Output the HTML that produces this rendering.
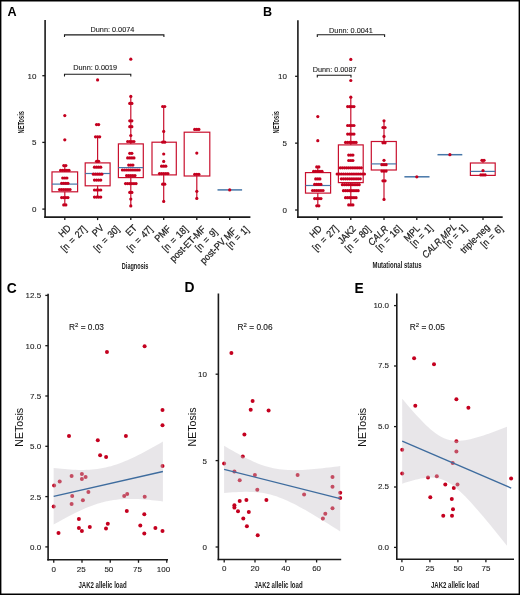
<!DOCTYPE html>
<html><head><meta charset="utf-8"><title>NETosis figure</title>
<style>
html,body{margin:0;padding:0;background:#fff;}
body{width:520px;height:595px;overflow:hidden;position:relative;}
svg{display:block;position:absolute;left:0;top:0;will-change:transform;}
text{font-family:"Liberation Sans", sans-serif;}
</style></head><body>
<svg width="520" height="595" viewBox="0 0 520 595">
<rect x="0" y="0" width="520" height="595" fill="#fff"/>
<text transform="translate(7.40,16.00)" font-size="12.6" text-anchor="start" font-weight="bold" font-style="normal" fill="#000" >A</text>
<line x1="45.1" y1="20" x2="45.1" y2="217.9" stroke="#1a1a1a" stroke-width="1.6"/>
<line x1="44.300000000000004" y1="217.1" x2="250.4" y2="217.1" stroke="#1a1a1a" stroke-width="1.6"/>
<line x1="42.300000000000004" y1="75.69999999999999" x2="45.1" y2="75.69999999999999" stroke="#1a1a1a" stroke-width="1.3"/>
<text transform="translate(36.50,78.60)" font-size="8.0" text-anchor="end" font-weight="normal" font-style="normal" fill="#1a1a1a"  stroke="#1a1a1a" stroke-width="0.1">10</text>
<line x1="42.300000000000004" y1="142.39999999999998" x2="45.1" y2="142.39999999999998" stroke="#1a1a1a" stroke-width="1.3"/>
<text transform="translate(36.50,145.30)" font-size="8.0" text-anchor="end" font-weight="normal" font-style="normal" fill="#1a1a1a"  stroke="#1a1a1a" stroke-width="0.1">5</text>
<line x1="42.300000000000004" y1="209.1" x2="45.1" y2="209.1" stroke="#1a1a1a" stroke-width="1.3"/>
<text transform="translate(36.50,212.00)" font-size="8.0" text-anchor="end" font-weight="normal" font-style="normal" fill="#1a1a1a"  stroke="#1a1a1a" stroke-width="0.1">0</text>
<text transform="translate(23.90,122.20) rotate(-90) scale(0.62,1)" font-size="9.2" text-anchor="middle" font-weight="bold" font-style="normal" fill="#1a1a1a" >NETosis</text>
<line x1="64.8" y1="217.1" x2="64.8" y2="220.1" stroke="#1a1a1a" stroke-width="1.3"/>
<line x1="97.6" y1="217.1" x2="97.6" y2="220.1" stroke="#1a1a1a" stroke-width="1.3"/>
<line x1="130.8" y1="217.1" x2="130.8" y2="220.1" stroke="#1a1a1a" stroke-width="1.3"/>
<line x1="163.7" y1="217.1" x2="163.7" y2="220.1" stroke="#1a1a1a" stroke-width="1.3"/>
<line x1="196.8" y1="217.1" x2="196.8" y2="220.1" stroke="#1a1a1a" stroke-width="1.3"/>
<line x1="229.7" y1="217.1" x2="229.7" y2="220.1" stroke="#1a1a1a" stroke-width="1.3"/>
<path d="M64.5 37.1 V34.9 H163.9 V37.1" fill="none" stroke="#1a1a1a" stroke-width="1.1"/>
<text transform="translate(112.40,32.30)" font-size="7.3" text-anchor="middle" font-weight="normal" font-style="normal" fill="#1a1a1a"  stroke="#1a1a1a" stroke-width="0.1">Dunn: 0.0074</text>
<path d="M64.5 76.4 V74.2 H130.8 V76.4" fill="none" stroke="#1a1a1a" stroke-width="1.1"/>
<text transform="translate(95.20,69.50)" font-size="7.3" text-anchor="middle" font-weight="normal" font-style="normal" fill="#1a1a1a"  stroke="#1a1a1a" stroke-width="0.1">Dunn: 0.0019</text>
<line x1="64.8" y1="165.6" x2="64.8" y2="171.9" stroke="#c8102e" stroke-width="1.2"/>
<line x1="64.8" y1="191.8" x2="64.8" y2="204.9" stroke="#c8102e" stroke-width="1.2"/>
<rect x="52.0" y="171.9" width="25.60" height="19.90" fill="none" stroke="#c8102e" stroke-width="1.2"/>
<line x1="52.0" y1="184.1" x2="77.6" y2="184.1" stroke="#4676a8" stroke-width="1.2"/>
<circle cx="64.80" cy="115.60" r="1.6" fill="#c4001f"/>
<circle cx="64.80" cy="139.80" r="1.6" fill="#c4001f"/>
<circle cx="63.75" cy="165.60" r="1.6" fill="#c4001f"/>
<circle cx="65.85" cy="165.60" r="1.6" fill="#c4001f"/>
<circle cx="60.60" cy="170.30" r="1.6" fill="#c4001f"/>
<circle cx="62.70" cy="170.30" r="1.6" fill="#c4001f"/>
<circle cx="64.80" cy="170.30" r="1.6" fill="#c4001f"/>
<circle cx="66.90" cy="170.30" r="1.6" fill="#c4001f"/>
<circle cx="69.00" cy="170.30" r="1.6" fill="#c4001f"/>
<circle cx="62.70" cy="178.00" r="1.6" fill="#c4001f"/>
<circle cx="64.80" cy="178.00" r="1.6" fill="#c4001f"/>
<circle cx="66.90" cy="178.00" r="1.6" fill="#c4001f"/>
<circle cx="61.65" cy="183.30" r="1.6" fill="#c4001f"/>
<circle cx="63.75" cy="183.30" r="1.6" fill="#c4001f"/>
<circle cx="65.85" cy="183.30" r="1.6" fill="#c4001f"/>
<circle cx="67.95" cy="183.30" r="1.6" fill="#c4001f"/>
<circle cx="59.55" cy="189.50" r="1.6" fill="#c4001f"/>
<circle cx="61.65" cy="189.50" r="1.6" fill="#c4001f"/>
<circle cx="63.75" cy="189.50" r="1.6" fill="#c4001f"/>
<circle cx="65.85" cy="189.50" r="1.6" fill="#c4001f"/>
<circle cx="67.95" cy="189.50" r="1.6" fill="#c4001f"/>
<circle cx="70.05" cy="189.50" r="1.6" fill="#c4001f"/>
<circle cx="61.65" cy="197.60" r="1.6" fill="#c4001f"/>
<circle cx="63.75" cy="197.60" r="1.6" fill="#c4001f"/>
<circle cx="65.85" cy="197.60" r="1.6" fill="#c4001f"/>
<circle cx="67.95" cy="197.60" r="1.6" fill="#c4001f"/>
<circle cx="63.75" cy="204.90" r="1.6" fill="#c4001f"/>
<circle cx="65.85" cy="204.90" r="1.6" fill="#c4001f"/>
<line x1="97.6" y1="136.8" x2="97.6" y2="162.9" stroke="#c8102e" stroke-width="1.2"/>
<line x1="97.6" y1="185.8" x2="97.6" y2="197.1" stroke="#c8102e" stroke-width="1.2"/>
<rect x="85.2" y="162.9" width="24.90" height="22.90" fill="none" stroke="#c8102e" stroke-width="1.2"/>
<line x1="85.2" y1="173.5" x2="110.1" y2="173.5" stroke="#4676a8" stroke-width="1.2"/>
<circle cx="97.60" cy="79.90" r="1.6" fill="#c4001f"/>
<circle cx="96.55" cy="124.60" r="1.6" fill="#c4001f"/>
<circle cx="98.65" cy="124.60" r="1.6" fill="#c4001f"/>
<circle cx="95.50" cy="136.80" r="1.6" fill="#c4001f"/>
<circle cx="97.60" cy="136.80" r="1.6" fill="#c4001f"/>
<circle cx="99.70" cy="136.80" r="1.6" fill="#c4001f"/>
<circle cx="96.55" cy="161.30" r="1.6" fill="#c4001f"/>
<circle cx="98.65" cy="161.30" r="1.6" fill="#c4001f"/>
<circle cx="94.45" cy="167.20" r="1.6" fill="#c4001f"/>
<circle cx="96.55" cy="167.20" r="1.6" fill="#c4001f"/>
<circle cx="98.65" cy="167.20" r="1.6" fill="#c4001f"/>
<circle cx="100.75" cy="167.20" r="1.6" fill="#c4001f"/>
<circle cx="93.40" cy="174.20" r="1.6" fill="#c4001f"/>
<circle cx="95.50" cy="174.20" r="1.6" fill="#c4001f"/>
<circle cx="97.60" cy="174.20" r="1.6" fill="#c4001f"/>
<circle cx="99.70" cy="174.20" r="1.6" fill="#c4001f"/>
<circle cx="101.80" cy="174.20" r="1.6" fill="#c4001f"/>
<circle cx="94.45" cy="180.10" r="1.6" fill="#c4001f"/>
<circle cx="96.55" cy="180.10" r="1.6" fill="#c4001f"/>
<circle cx="98.65" cy="180.10" r="1.6" fill="#c4001f"/>
<circle cx="100.75" cy="180.10" r="1.6" fill="#c4001f"/>
<circle cx="94.45" cy="190.00" r="1.6" fill="#c4001f"/>
<circle cx="96.55" cy="190.00" r="1.6" fill="#c4001f"/>
<circle cx="98.65" cy="190.00" r="1.6" fill="#c4001f"/>
<circle cx="100.75" cy="190.00" r="1.6" fill="#c4001f"/>
<circle cx="94.45" cy="197.10" r="1.6" fill="#c4001f"/>
<circle cx="96.55" cy="197.10" r="1.6" fill="#c4001f"/>
<circle cx="98.65" cy="197.10" r="1.6" fill="#c4001f"/>
<circle cx="100.75" cy="197.10" r="1.6" fill="#c4001f"/>
<line x1="130.8" y1="96.4" x2="130.8" y2="143.9" stroke="#c8102e" stroke-width="1.2"/>
<line x1="130.8" y1="177.6" x2="130.8" y2="205.9" stroke="#c8102e" stroke-width="1.2"/>
<rect x="118.4" y="143.9" width="24.90" height="33.70" fill="none" stroke="#c8102e" stroke-width="1.2"/>
<line x1="118.4" y1="167.6" x2="143.3" y2="167.6" stroke="#4676a8" stroke-width="1.2"/>
<circle cx="130.80" cy="59.20" r="1.6" fill="#c4001f"/>
<circle cx="130.80" cy="96.40" r="1.6" fill="#c4001f"/>
<circle cx="129.75" cy="103.40" r="1.6" fill="#c4001f"/>
<circle cx="131.85" cy="103.40" r="1.6" fill="#c4001f"/>
<circle cx="129.75" cy="120.80" r="1.6" fill="#c4001f"/>
<circle cx="131.85" cy="120.80" r="1.6" fill="#c4001f"/>
<circle cx="129.75" cy="126.70" r="1.6" fill="#c4001f"/>
<circle cx="131.85" cy="126.70" r="1.6" fill="#c4001f"/>
<circle cx="130.80" cy="135.50" r="1.6" fill="#c4001f"/>
<circle cx="127.65" cy="141.50" r="1.6" fill="#c4001f"/>
<circle cx="129.75" cy="141.50" r="1.6" fill="#c4001f"/>
<circle cx="131.85" cy="141.50" r="1.6" fill="#c4001f"/>
<circle cx="133.95" cy="141.50" r="1.6" fill="#c4001f"/>
<circle cx="129.75" cy="153.30" r="1.6" fill="#c4001f"/>
<circle cx="131.85" cy="153.30" r="1.6" fill="#c4001f"/>
<circle cx="127.65" cy="157.90" r="1.6" fill="#c4001f"/>
<circle cx="129.75" cy="157.90" r="1.6" fill="#c4001f"/>
<circle cx="131.85" cy="157.90" r="1.6" fill="#c4001f"/>
<circle cx="133.95" cy="157.90" r="1.6" fill="#c4001f"/>
<circle cx="128.70" cy="165.10" r="1.6" fill="#c4001f"/>
<circle cx="130.80" cy="165.10" r="1.6" fill="#c4001f"/>
<circle cx="132.90" cy="165.10" r="1.6" fill="#c4001f"/>
<circle cx="122.40" cy="170.00" r="1.6" fill="#c4001f"/>
<circle cx="124.50" cy="170.00" r="1.6" fill="#c4001f"/>
<circle cx="126.60" cy="170.00" r="1.6" fill="#c4001f"/>
<circle cx="128.70" cy="170.00" r="1.6" fill="#c4001f"/>
<circle cx="130.80" cy="170.00" r="1.6" fill="#c4001f"/>
<circle cx="132.90" cy="170.00" r="1.6" fill="#c4001f"/>
<circle cx="135.00" cy="170.00" r="1.6" fill="#c4001f"/>
<circle cx="137.10" cy="170.00" r="1.6" fill="#c4001f"/>
<circle cx="139.20" cy="170.00" r="1.6" fill="#c4001f"/>
<circle cx="126.60" cy="175.60" r="1.6" fill="#c4001f"/>
<circle cx="128.70" cy="175.60" r="1.6" fill="#c4001f"/>
<circle cx="130.80" cy="175.60" r="1.6" fill="#c4001f"/>
<circle cx="132.90" cy="175.60" r="1.6" fill="#c4001f"/>
<circle cx="135.00" cy="175.60" r="1.6" fill="#c4001f"/>
<circle cx="125.55" cy="183.60" r="1.6" fill="#c4001f"/>
<circle cx="127.65" cy="183.60" r="1.6" fill="#c4001f"/>
<circle cx="129.75" cy="183.60" r="1.6" fill="#c4001f"/>
<circle cx="131.85" cy="183.60" r="1.6" fill="#c4001f"/>
<circle cx="133.95" cy="183.60" r="1.6" fill="#c4001f"/>
<circle cx="136.05" cy="183.60" r="1.6" fill="#c4001f"/>
<circle cx="129.75" cy="192.40" r="1.6" fill="#c4001f"/>
<circle cx="131.85" cy="192.40" r="1.6" fill="#c4001f"/>
<circle cx="130.80" cy="199.10" r="1.6" fill="#c4001f"/>
<circle cx="130.80" cy="205.90" r="1.6" fill="#c4001f"/>
<line x1="163.7" y1="106.5" x2="163.7" y2="142.2" stroke="#c8102e" stroke-width="1.2"/>
<line x1="163.7" y1="174.9" x2="163.7" y2="201.4" stroke="#c8102e" stroke-width="1.2"/>
<rect x="152.0" y="142.2" width="24.30" height="32.70" fill="none" stroke="#c8102e" stroke-width="1.2"/>
<circle cx="162.65" cy="106.50" r="1.6" fill="#c4001f"/>
<circle cx="164.75" cy="106.50" r="1.6" fill="#c4001f"/>
<circle cx="163.70" cy="131.40" r="1.6" fill="#c4001f"/>
<circle cx="162.65" cy="142.20" r="1.6" fill="#c4001f"/>
<circle cx="164.75" cy="142.20" r="1.6" fill="#c4001f"/>
<circle cx="163.70" cy="154.00" r="1.6" fill="#c4001f"/>
<circle cx="163.70" cy="161.40" r="1.6" fill="#c4001f"/>
<circle cx="161.60" cy="166.20" r="1.6" fill="#c4001f"/>
<circle cx="163.70" cy="166.20" r="1.6" fill="#c4001f"/>
<circle cx="165.80" cy="166.20" r="1.6" fill="#c4001f"/>
<circle cx="159.50" cy="173.60" r="1.6" fill="#c4001f"/>
<circle cx="161.60" cy="173.60" r="1.6" fill="#c4001f"/>
<circle cx="163.70" cy="173.60" r="1.6" fill="#c4001f"/>
<circle cx="165.80" cy="173.60" r="1.6" fill="#c4001f"/>
<circle cx="167.90" cy="173.60" r="1.6" fill="#c4001f"/>
<circle cx="162.65" cy="184.20" r="1.6" fill="#c4001f"/>
<circle cx="164.75" cy="184.20" r="1.6" fill="#c4001f"/>
<circle cx="163.70" cy="201.40" r="1.6" fill="#c4001f"/>
<line x1="196.8" y1="176.0" x2="196.8" y2="198.4" stroke="#c8102e" stroke-width="1.2"/>
<rect x="184.2" y="132.2" width="25.60" height="43.80" fill="none" stroke="#c8102e" stroke-width="1.2"/>
<circle cx="194.70" cy="129.40" r="1.6" fill="#c4001f"/>
<circle cx="196.80" cy="129.40" r="1.6" fill="#c4001f"/>
<circle cx="198.90" cy="129.40" r="1.6" fill="#c4001f"/>
<circle cx="196.80" cy="153.10" r="1.6" fill="#c4001f"/>
<circle cx="194.70" cy="174.30" r="1.6" fill="#c4001f"/>
<circle cx="196.80" cy="174.30" r="1.6" fill="#c4001f"/>
<circle cx="198.90" cy="174.30" r="1.6" fill="#c4001f"/>
<circle cx="196.80" cy="191.30" r="1.6" fill="#c4001f"/>
<circle cx="196.80" cy="198.40" r="1.6" fill="#c4001f"/>
<line x1="217.5" y1="189.9" x2="242.1" y2="189.9" stroke="#4676a8" stroke-width="1.5"/>
<circle cx="229.70" cy="189.90" r="1.6" fill="#c4001f"/>
<text transform="translate(71.52,228.63) rotate(-45) scale(0.9,1)" font-size="9.8" text-anchor="end" font-weight="normal" font-style="normal" fill="#1a1a1a"  stroke="#1a1a1a" stroke-width="0.22">HD</text>
<text transform="translate(87.29,229.83) rotate(-45) scale(0.9,1)" font-size="9.8" text-anchor="end" font-weight="normal" font-style="normal" fill="#1a1a1a" word-spacing="1.2" stroke="#1a1a1a" stroke-width="0.22">[n = 27]</text>
<text transform="translate(104.32,228.63) rotate(-45) scale(0.9,1)" font-size="9.8" text-anchor="end" font-weight="normal" font-style="normal" fill="#1a1a1a"  stroke="#1a1a1a" stroke-width="0.22">PV</text>
<text transform="translate(120.09,229.83) rotate(-45) scale(0.9,1)" font-size="9.8" text-anchor="end" font-weight="normal" font-style="normal" fill="#1a1a1a" word-spacing="1.2" stroke="#1a1a1a" stroke-width="0.22">[n = 30]</text>
<text transform="translate(137.52,228.63) rotate(-45) scale(0.9,1)" font-size="9.8" text-anchor="end" font-weight="normal" font-style="normal" fill="#1a1a1a"  stroke="#1a1a1a" stroke-width="0.22">ET</text>
<text transform="translate(153.29,229.83) rotate(-45) scale(0.9,1)" font-size="9.8" text-anchor="end" font-weight="normal" font-style="normal" fill="#1a1a1a" word-spacing="1.2" stroke="#1a1a1a" stroke-width="0.22">[n = 47]</text>
<text transform="translate(171.62,229.33) rotate(-45) scale(0.9,1)" font-size="9.8" text-anchor="end" font-weight="normal" font-style="normal" fill="#1a1a1a"  stroke="#1a1a1a" stroke-width="0.22">PMF</text>
<text transform="translate(188.49,229.83) rotate(-45) scale(0.9,1)" font-size="9.8" text-anchor="end" font-weight="normal" font-style="normal" fill="#1a1a1a" word-spacing="1.2" stroke="#1a1a1a" stroke-width="0.22">[n = 18]</text>
<text transform="translate(206.22,230.03) rotate(-45) scale(0.9,1)" font-size="9.8" text-anchor="end" font-weight="normal" font-style="normal" fill="#1a1a1a"  stroke="#1a1a1a" stroke-width="0.22">post-ET-MF</text>
<text transform="translate(218.09,232.63) rotate(-45) scale(0.9,1)" font-size="9.8" text-anchor="end" font-weight="normal" font-style="normal" fill="#1a1a1a" word-spacing="1.2" stroke="#1a1a1a" stroke-width="0.22">[n = 9]</text>
<text transform="translate(236.92,231.63) rotate(-45) scale(0.9,1)" font-size="9.8" text-anchor="end" font-weight="normal" font-style="normal" fill="#1a1a1a"  stroke="#1a1a1a" stroke-width="0.22">post-PV MF</text>
<text transform="translate(249.39,230.23) rotate(-45) scale(0.9,1)" font-size="9.8" text-anchor="end" font-weight="normal" font-style="normal" fill="#1a1a1a" word-spacing="1.2" stroke="#1a1a1a" stroke-width="0.22">[n = 1]</text>
<text transform="translate(135.10,268.80) scale(0.63,1)" font-size="8.8" text-anchor="middle" font-weight="bold" font-style="normal" fill="#1a1a1a" >Diagnosis</text>
<text transform="translate(263.00,15.80)" font-size="12.6" text-anchor="start" font-weight="bold" font-style="normal" fill="#000" >B</text>
<line x1="297.9" y1="20.2" x2="297.9" y2="217.9" stroke="#1a1a1a" stroke-width="1.6"/>
<line x1="297.09999999999997" y1="217.1" x2="502.7" y2="217.1" stroke="#1a1a1a" stroke-width="1.6"/>
<line x1="295.09999999999997" y1="76.30000000000001" x2="297.9" y2="76.30000000000001" stroke="#1a1a1a" stroke-width="1.3"/>
<text transform="translate(287.00,79.20)" font-size="8.0" text-anchor="end" font-weight="normal" font-style="normal" fill="#1a1a1a"  stroke="#1a1a1a" stroke-width="0.1">10</text>
<line x1="295.09999999999997" y1="143.15" x2="297.9" y2="143.15" stroke="#1a1a1a" stroke-width="1.3"/>
<text transform="translate(287.00,146.05)" font-size="8.0" text-anchor="end" font-weight="normal" font-style="normal" fill="#1a1a1a"  stroke="#1a1a1a" stroke-width="0.1">5</text>
<line x1="295.09999999999997" y1="210.0" x2="297.9" y2="210.0" stroke="#1a1a1a" stroke-width="1.3"/>
<text transform="translate(287.00,212.90)" font-size="8.0" text-anchor="end" font-weight="normal" font-style="normal" fill="#1a1a1a"  stroke="#1a1a1a" stroke-width="0.1">0</text>
<text transform="translate(278.80,122.20) rotate(-90) scale(0.62,1)" font-size="9.2" text-anchor="middle" font-weight="bold" font-style="normal" fill="#1a1a1a" >NETosis</text>
<line x1="317.8" y1="217.1" x2="317.8" y2="220.1" stroke="#1a1a1a" stroke-width="1.3"/>
<line x1="350.8" y1="217.1" x2="350.8" y2="220.1" stroke="#1a1a1a" stroke-width="1.3"/>
<line x1="384.0" y1="217.1" x2="384.0" y2="220.1" stroke="#1a1a1a" stroke-width="1.3"/>
<line x1="416.8" y1="217.1" x2="416.8" y2="220.1" stroke="#1a1a1a" stroke-width="1.3"/>
<line x1="449.9" y1="217.1" x2="449.9" y2="220.1" stroke="#1a1a1a" stroke-width="1.3"/>
<line x1="483.0" y1="217.1" x2="483.0" y2="220.1" stroke="#1a1a1a" stroke-width="1.3"/>
<path d="M317.3 37.0 V34.8 H384.6 V37.0" fill="none" stroke="#1a1a1a" stroke-width="1.1"/>
<text transform="translate(351.00,32.50)" font-size="7.3" text-anchor="middle" font-weight="normal" font-style="normal" fill="#1a1a1a"  stroke="#1a1a1a" stroke-width="0.1">Dunn: 0.0041</text>
<path d="M317.3 77.4 V75.2 H351.0 V77.4" fill="none" stroke="#1a1a1a" stroke-width="1.1"/>
<text transform="translate(334.60,71.90)" font-size="7.3" text-anchor="middle" font-weight="normal" font-style="normal" fill="#1a1a1a"  stroke="#1a1a1a" stroke-width="0.1">Dunn: 0.0087</text>
<line x1="317.8" y1="166.9" x2="317.8" y2="172.6" stroke="#c8102e" stroke-width="1.2"/>
<line x1="317.8" y1="193.1" x2="317.8" y2="205.8" stroke="#c8102e" stroke-width="1.2"/>
<rect x="305.5" y="172.6" width="25.10" height="20.50" fill="none" stroke="#c8102e" stroke-width="1.2"/>
<line x1="305.5" y1="185.5" x2="330.6" y2="185.5" stroke="#4676a8" stroke-width="1.2"/>
<circle cx="317.80" cy="116.60" r="1.6" fill="#c4001f"/>
<circle cx="317.80" cy="140.70" r="1.6" fill="#c4001f"/>
<circle cx="316.75" cy="166.90" r="1.6" fill="#c4001f"/>
<circle cx="318.85" cy="166.90" r="1.6" fill="#c4001f"/>
<circle cx="313.60" cy="171.30" r="1.6" fill="#c4001f"/>
<circle cx="315.70" cy="171.30" r="1.6" fill="#c4001f"/>
<circle cx="317.80" cy="171.30" r="1.6" fill="#c4001f"/>
<circle cx="319.90" cy="171.30" r="1.6" fill="#c4001f"/>
<circle cx="322.00" cy="171.30" r="1.6" fill="#c4001f"/>
<circle cx="315.70" cy="178.90" r="1.6" fill="#c4001f"/>
<circle cx="317.80" cy="178.90" r="1.6" fill="#c4001f"/>
<circle cx="319.90" cy="178.90" r="1.6" fill="#c4001f"/>
<circle cx="314.65" cy="184.40" r="1.6" fill="#c4001f"/>
<circle cx="316.75" cy="184.40" r="1.6" fill="#c4001f"/>
<circle cx="318.85" cy="184.40" r="1.6" fill="#c4001f"/>
<circle cx="320.95" cy="184.40" r="1.6" fill="#c4001f"/>
<circle cx="312.55" cy="190.50" r="1.6" fill="#c4001f"/>
<circle cx="314.65" cy="190.50" r="1.6" fill="#c4001f"/>
<circle cx="316.75" cy="190.50" r="1.6" fill="#c4001f"/>
<circle cx="318.85" cy="190.50" r="1.6" fill="#c4001f"/>
<circle cx="320.95" cy="190.50" r="1.6" fill="#c4001f"/>
<circle cx="323.05" cy="190.50" r="1.6" fill="#c4001f"/>
<circle cx="314.65" cy="198.60" r="1.6" fill="#c4001f"/>
<circle cx="316.75" cy="198.60" r="1.6" fill="#c4001f"/>
<circle cx="318.85" cy="198.60" r="1.6" fill="#c4001f"/>
<circle cx="320.95" cy="198.60" r="1.6" fill="#c4001f"/>
<circle cx="316.75" cy="205.80" r="1.6" fill="#c4001f"/>
<circle cx="318.85" cy="205.80" r="1.6" fill="#c4001f"/>
<line x1="350.8" y1="97.2" x2="350.8" y2="144.9" stroke="#c8102e" stroke-width="1.2"/>
<line x1="350.8" y1="182.6" x2="350.8" y2="204.9" stroke="#c8102e" stroke-width="1.2"/>
<rect x="338.4" y="144.9" width="24.80" height="37.70" fill="none" stroke="#c8102e" stroke-width="1.2"/>
<circle cx="350.80" cy="59.40" r="1.6" fill="#c4001f"/>
<circle cx="350.80" cy="80.50" r="1.6" fill="#c4001f"/>
<circle cx="350.80" cy="97.20" r="1.6" fill="#c4001f"/>
<circle cx="347.65" cy="106.60" r="1.6" fill="#c4001f"/>
<circle cx="349.75" cy="106.60" r="1.6" fill="#c4001f"/>
<circle cx="351.85" cy="106.60" r="1.6" fill="#c4001f"/>
<circle cx="353.95" cy="106.60" r="1.6" fill="#c4001f"/>
<circle cx="347.65" cy="125.50" r="1.6" fill="#c4001f"/>
<circle cx="349.75" cy="125.50" r="1.6" fill="#c4001f"/>
<circle cx="351.85" cy="125.50" r="1.6" fill="#c4001f"/>
<circle cx="353.95" cy="125.50" r="1.6" fill="#c4001f"/>
<circle cx="347.65" cy="134.10" r="1.6" fill="#c4001f"/>
<circle cx="349.75" cy="134.10" r="1.6" fill="#c4001f"/>
<circle cx="351.85" cy="134.10" r="1.6" fill="#c4001f"/>
<circle cx="353.95" cy="134.10" r="1.6" fill="#c4001f"/>
<circle cx="345.55" cy="142.40" r="1.6" fill="#c4001f"/>
<circle cx="347.65" cy="142.40" r="1.6" fill="#c4001f"/>
<circle cx="349.75" cy="142.40" r="1.6" fill="#c4001f"/>
<circle cx="351.85" cy="142.40" r="1.6" fill="#c4001f"/>
<circle cx="353.95" cy="142.40" r="1.6" fill="#c4001f"/>
<circle cx="356.05" cy="142.40" r="1.6" fill="#c4001f"/>
<circle cx="348.70" cy="155.10" r="1.6" fill="#c4001f"/>
<circle cx="350.80" cy="155.10" r="1.6" fill="#c4001f"/>
<circle cx="352.90" cy="155.10" r="1.6" fill="#c4001f"/>
<circle cx="348.70" cy="160.50" r="1.6" fill="#c4001f"/>
<circle cx="350.80" cy="160.50" r="1.6" fill="#c4001f"/>
<circle cx="352.90" cy="160.50" r="1.6" fill="#c4001f"/>
<circle cx="340.30" cy="167.80" r="1.6" fill="#c4001f"/>
<circle cx="342.40" cy="167.80" r="1.6" fill="#c4001f"/>
<circle cx="344.50" cy="167.80" r="1.6" fill="#c4001f"/>
<circle cx="346.60" cy="167.80" r="1.6" fill="#c4001f"/>
<circle cx="348.70" cy="167.80" r="1.6" fill="#c4001f"/>
<circle cx="350.80" cy="167.80" r="1.6" fill="#c4001f"/>
<circle cx="352.90" cy="167.80" r="1.6" fill="#c4001f"/>
<circle cx="355.00" cy="167.80" r="1.6" fill="#c4001f"/>
<circle cx="357.10" cy="167.80" r="1.6" fill="#c4001f"/>
<circle cx="359.20" cy="167.80" r="1.6" fill="#c4001f"/>
<circle cx="361.30" cy="167.80" r="1.6" fill="#c4001f"/>
<circle cx="337.15" cy="174.00" r="1.6" fill="#c4001f"/>
<circle cx="339.25" cy="174.00" r="1.6" fill="#c4001f"/>
<circle cx="341.35" cy="174.00" r="1.6" fill="#c4001f"/>
<circle cx="343.45" cy="174.00" r="1.6" fill="#c4001f"/>
<circle cx="345.55" cy="174.00" r="1.6" fill="#c4001f"/>
<circle cx="347.65" cy="174.00" r="1.6" fill="#c4001f"/>
<circle cx="349.75" cy="174.00" r="1.6" fill="#c4001f"/>
<circle cx="351.85" cy="174.00" r="1.6" fill="#c4001f"/>
<circle cx="353.95" cy="174.00" r="1.6" fill="#c4001f"/>
<circle cx="356.05" cy="174.00" r="1.6" fill="#c4001f"/>
<circle cx="358.15" cy="174.00" r="1.6" fill="#c4001f"/>
<circle cx="360.25" cy="174.00" r="1.6" fill="#c4001f"/>
<circle cx="362.35" cy="174.00" r="1.6" fill="#c4001f"/>
<circle cx="364.45" cy="174.00" r="1.6" fill="#c4001f"/>
<circle cx="341.35" cy="178.80" r="1.6" fill="#c4001f"/>
<circle cx="343.45" cy="178.80" r="1.6" fill="#c4001f"/>
<circle cx="345.55" cy="178.80" r="1.6" fill="#c4001f"/>
<circle cx="347.65" cy="178.80" r="1.6" fill="#c4001f"/>
<circle cx="349.75" cy="178.80" r="1.6" fill="#c4001f"/>
<circle cx="351.85" cy="178.80" r="1.6" fill="#c4001f"/>
<circle cx="353.95" cy="178.80" r="1.6" fill="#c4001f"/>
<circle cx="356.05" cy="178.80" r="1.6" fill="#c4001f"/>
<circle cx="358.15" cy="178.80" r="1.6" fill="#c4001f"/>
<circle cx="360.25" cy="178.80" r="1.6" fill="#c4001f"/>
<circle cx="342.40" cy="184.70" r="1.6" fill="#c4001f"/>
<circle cx="344.50" cy="184.70" r="1.6" fill="#c4001f"/>
<circle cx="346.60" cy="184.70" r="1.6" fill="#c4001f"/>
<circle cx="348.70" cy="184.70" r="1.6" fill="#c4001f"/>
<circle cx="350.80" cy="184.70" r="1.6" fill="#c4001f"/>
<circle cx="352.90" cy="184.70" r="1.6" fill="#c4001f"/>
<circle cx="355.00" cy="184.70" r="1.6" fill="#c4001f"/>
<circle cx="357.10" cy="184.70" r="1.6" fill="#c4001f"/>
<circle cx="359.20" cy="184.70" r="1.6" fill="#c4001f"/>
<circle cx="343.45" cy="190.70" r="1.6" fill="#c4001f"/>
<circle cx="345.55" cy="190.70" r="1.6" fill="#c4001f"/>
<circle cx="347.65" cy="190.70" r="1.6" fill="#c4001f"/>
<circle cx="349.75" cy="190.70" r="1.6" fill="#c4001f"/>
<circle cx="351.85" cy="190.70" r="1.6" fill="#c4001f"/>
<circle cx="353.95" cy="190.70" r="1.6" fill="#c4001f"/>
<circle cx="356.05" cy="190.70" r="1.6" fill="#c4001f"/>
<circle cx="358.15" cy="190.70" r="1.6" fill="#c4001f"/>
<circle cx="345.55" cy="197.70" r="1.6" fill="#c4001f"/>
<circle cx="347.65" cy="197.70" r="1.6" fill="#c4001f"/>
<circle cx="349.75" cy="197.70" r="1.6" fill="#c4001f"/>
<circle cx="351.85" cy="197.70" r="1.6" fill="#c4001f"/>
<circle cx="353.95" cy="197.70" r="1.6" fill="#c4001f"/>
<circle cx="356.05" cy="197.70" r="1.6" fill="#c4001f"/>
<circle cx="348.70" cy="204.90" r="1.6" fill="#c4001f"/>
<circle cx="350.80" cy="204.90" r="1.6" fill="#c4001f"/>
<circle cx="352.90" cy="204.90" r="1.6" fill="#c4001f"/>
<line x1="384.0" y1="120.8" x2="384.0" y2="141.5" stroke="#c8102e" stroke-width="1.2"/>
<line x1="384.0" y1="170.0" x2="384.0" y2="199.4" stroke="#c8102e" stroke-width="1.2"/>
<rect x="371.3" y="141.5" width="25.00" height="28.50" fill="none" stroke="#c8102e" stroke-width="1.2"/>
<line x1="371.3" y1="163.9" x2="396.3" y2="163.9" stroke="#4676a8" stroke-width="1.2"/>
<circle cx="384.00" cy="120.80" r="1.6" fill="#c4001f"/>
<circle cx="382.95" cy="127.50" r="1.6" fill="#c4001f"/>
<circle cx="385.05" cy="127.50" r="1.6" fill="#c4001f"/>
<circle cx="384.00" cy="136.40" r="1.6" fill="#c4001f"/>
<circle cx="382.95" cy="142.80" r="1.6" fill="#c4001f"/>
<circle cx="385.05" cy="142.80" r="1.6" fill="#c4001f"/>
<circle cx="384.00" cy="160.30" r="1.6" fill="#c4001f"/>
<circle cx="381.90" cy="164.70" r="1.6" fill="#c4001f"/>
<circle cx="384.00" cy="164.70" r="1.6" fill="#c4001f"/>
<circle cx="386.10" cy="164.70" r="1.6" fill="#c4001f"/>
<circle cx="381.90" cy="171.10" r="1.6" fill="#c4001f"/>
<circle cx="384.00" cy="171.10" r="1.6" fill="#c4001f"/>
<circle cx="386.10" cy="171.10" r="1.6" fill="#c4001f"/>
<circle cx="382.95" cy="180.80" r="1.6" fill="#c4001f"/>
<circle cx="385.05" cy="180.80" r="1.6" fill="#c4001f"/>
<circle cx="384.00" cy="199.40" r="1.6" fill="#c4001f"/>
<line x1="404.4" y1="176.8" x2="429.5" y2="176.8" stroke="#4676a8" stroke-width="1.5"/>
<circle cx="416.80" cy="176.80" r="1.6" fill="#c4001f"/>
<line x1="437.5" y1="154.7" x2="462.3" y2="154.7" stroke="#4676a8" stroke-width="1.5"/>
<circle cx="449.90" cy="154.70" r="1.6" fill="#c4001f"/>
<line x1="483.0" y1="160.3" x2="483.0" y2="163.0" stroke="#c8102e" stroke-width="1.2"/>
<rect x="470.4" y="163.0" width="24.80" height="12.40" fill="none" stroke="#c8102e" stroke-width="1.2"/>
<line x1="470.4" y1="171.4" x2="495.2" y2="171.4" stroke="#4676a8" stroke-width="1.2"/>
<circle cx="481.95" cy="160.30" r="1.6" fill="#c4001f"/>
<circle cx="484.05" cy="160.30" r="1.6" fill="#c4001f"/>
<circle cx="483.00" cy="170.60" r="1.6" fill="#c4001f"/>
<circle cx="480.90" cy="174.90" r="1.6" fill="#c4001f"/>
<circle cx="483.00" cy="174.90" r="1.6" fill="#c4001f"/>
<circle cx="485.10" cy="174.90" r="1.6" fill="#c4001f"/>
<text transform="translate(322.52,229.13) rotate(-45) scale(0.9,1)" font-size="9.8" text-anchor="end" font-weight="normal" font-style="normal" fill="#1a1a1a"  stroke="#1a1a1a" stroke-width="0.22">HD</text>
<text transform="translate(338.79,229.33) rotate(-45) scale(0.9,1)" font-size="9.8" text-anchor="end" font-weight="normal" font-style="normal" fill="#1a1a1a" word-spacing="1.2" stroke="#1a1a1a" stroke-width="0.22">[n = 27]</text>
<text transform="translate(356.52,229.63) rotate(-45) scale(0.9,1)" font-size="9.8" text-anchor="end" font-weight="normal" font-style="normal" fill="#1a1a1a"  stroke="#1a1a1a" stroke-width="0.22">JAK2</text>
<text transform="translate(371.29,229.83) rotate(-45) scale(0.9,1)" font-size="9.8" text-anchor="end" font-weight="normal" font-style="normal" fill="#1a1a1a" word-spacing="1.2" stroke="#1a1a1a" stroke-width="0.22">[n = 80]</text>
<text transform="translate(388.72,229.63) rotate(-45) scale(0.9,1)" font-size="9.8" text-anchor="end" font-weight="normal" font-style="italic" fill="#1a1a1a"  stroke="#1a1a1a" stroke-width="0.22">CALR</text>
<text transform="translate(402.19,229.23) rotate(-45) scale(0.9,1)" font-size="9.8" text-anchor="end" font-weight="normal" font-style="normal" fill="#1a1a1a" word-spacing="1.2" stroke="#1a1a1a" stroke-width="0.22">[n = 16]</text>
<text transform="translate(420.52,229.13) rotate(-45) scale(0.9,1)" font-size="9.8" text-anchor="end" font-weight="normal" font-style="normal" fill="#1a1a1a"  stroke="#1a1a1a" stroke-width="0.22">MPL</text>
<text transform="translate(433.29,228.83) rotate(-45) scale(0.9,1)" font-size="9.8" text-anchor="end" font-weight="normal" font-style="normal" fill="#1a1a1a" word-spacing="1.2" stroke="#1a1a1a" stroke-width="0.22">[n = 1]</text>
<text transform="translate(457.12,227.63) rotate(-45) scale(0.9,1)" font-size="9.8" text-anchor="end" font-weight="normal" font-style="italic" fill="#1a1a1a"  stroke="#1a1a1a" stroke-width="0.22">CALR,MPL</text>
<text transform="translate(467.39,228.83) rotate(-45) scale(0.9,1)" font-size="9.8" text-anchor="end" font-weight="normal" font-style="normal" fill="#1a1a1a" word-spacing="1.2" stroke="#1a1a1a" stroke-width="0.22">[n = 1]</text>
<text transform="translate(490.22,228.13) rotate(-45) scale(0.9,1)" font-size="9.8" text-anchor="end" font-weight="normal" font-style="normal" fill="#1a1a1a"  stroke="#1a1a1a" stroke-width="0.22">triple-neg</text>
<text transform="translate(503.49,229.33) rotate(-45) scale(0.9,1)" font-size="9.8" text-anchor="end" font-weight="normal" font-style="normal" fill="#1a1a1a" word-spacing="1.2" stroke="#1a1a1a" stroke-width="0.22">[n = 6]</text>
<text transform="translate(397.00,268.20) scale(0.68,1)" font-size="8.8" text-anchor="middle" font-weight="bold" font-style="normal" fill="#1a1a1a" >Mutational status</text>
<text transform="translate(6.80,292.50)" font-size="13.8" text-anchor="start" font-weight="bold" font-style="normal" fill="#000" >C</text>
<line x1="48.1" y1="293.8" x2="48.1" y2="560.5999999999999" stroke="#1a1a1a" stroke-width="1.6"/>
<line x1="47.300000000000004" y1="559.8" x2="168.0" y2="559.8" stroke="#1a1a1a" stroke-width="1.6"/>
<line x1="45.300000000000004" y1="295.4" x2="48.1" y2="295.4" stroke="#1a1a1a" stroke-width="1.3"/>
<text transform="translate(41.20,298.30)" font-size="8.0" text-anchor="end" font-weight="normal" font-style="normal" fill="#1a1a1a"  stroke="#1a1a1a" stroke-width="0.1">12.5</text>
<line x1="45.300000000000004" y1="345.69999999999993" x2="48.1" y2="345.69999999999993" stroke="#1a1a1a" stroke-width="1.3"/>
<text transform="translate(41.20,348.60)" font-size="8.0" text-anchor="end" font-weight="normal" font-style="normal" fill="#1a1a1a"  stroke="#1a1a1a" stroke-width="0.1">10.0</text>
<line x1="45.300000000000004" y1="396.0" x2="48.1" y2="396.0" stroke="#1a1a1a" stroke-width="1.3"/>
<text transform="translate(41.20,398.90)" font-size="8.0" text-anchor="end" font-weight="normal" font-style="normal" fill="#1a1a1a"  stroke="#1a1a1a" stroke-width="0.1">7.5</text>
<line x1="45.300000000000004" y1="446.29999999999995" x2="48.1" y2="446.29999999999995" stroke="#1a1a1a" stroke-width="1.3"/>
<text transform="translate(41.20,449.20)" font-size="8.0" text-anchor="end" font-weight="normal" font-style="normal" fill="#1a1a1a"  stroke="#1a1a1a" stroke-width="0.1">5.0</text>
<line x1="45.300000000000004" y1="496.59999999999997" x2="48.1" y2="496.59999999999997" stroke="#1a1a1a" stroke-width="1.3"/>
<text transform="translate(41.20,499.50)" font-size="8.0" text-anchor="end" font-weight="normal" font-style="normal" fill="#1a1a1a"  stroke="#1a1a1a" stroke-width="0.1">2.5</text>
<line x1="45.300000000000004" y1="546.9" x2="48.1" y2="546.9" stroke="#1a1a1a" stroke-width="1.3"/>
<text transform="translate(41.20,549.80)" font-size="8.0" text-anchor="end" font-weight="normal" font-style="normal" fill="#1a1a1a"  stroke="#1a1a1a" stroke-width="0.1">0.0</text>
<line x1="53.75" y1="559.8" x2="53.75" y2="562.8" stroke="#1a1a1a" stroke-width="1.3"/>
<text transform="translate(53.75,571.70)" font-size="8.0" text-anchor="middle" font-weight="normal" font-style="normal" fill="#1a1a1a"  stroke="#1a1a1a" stroke-width="0.1">0</text>
<line x1="82.0" y1="559.8" x2="82.0" y2="562.8" stroke="#1a1a1a" stroke-width="1.3"/>
<text transform="translate(81.20,571.70)" font-size="8.0" text-anchor="middle" font-weight="normal" font-style="normal" fill="#1a1a1a"  stroke="#1a1a1a" stroke-width="0.1">25</text>
<line x1="110.25" y1="559.8" x2="110.25" y2="562.8" stroke="#1a1a1a" stroke-width="1.3"/>
<text transform="translate(108.85,571.70)" font-size="8.0" text-anchor="middle" font-weight="normal" font-style="normal" fill="#1a1a1a"  stroke="#1a1a1a" stroke-width="0.1">50</text>
<line x1="138.5" y1="559.8" x2="138.5" y2="562.8" stroke="#1a1a1a" stroke-width="1.3"/>
<text transform="translate(137.50,571.70)" font-size="8.0" text-anchor="middle" font-weight="normal" font-style="normal" fill="#1a1a1a"  stroke="#1a1a1a" stroke-width="0.1">75</text>
<line x1="166.75" y1="559.8" x2="166.75" y2="562.8" stroke="#1a1a1a" stroke-width="1.3"/>
<text transform="translate(163.45,571.70)" font-size="8.0" text-anchor="middle" font-weight="normal" font-style="normal" fill="#1a1a1a"  stroke="#1a1a1a" stroke-width="0.1">100</text>
<text transform="translate(22.60,427.30) rotate(-90)" font-size="10.6" text-anchor="middle" font-weight="normal" font-style="normal" fill="#111" >NETosis</text>
<text transform="translate(68.90,330.20)" font-size="8.3" text-anchor="start" font-weight="normal" font-style="normal" fill="#1a1a1a"  stroke="#1a1a1a" stroke-width="0.12">R<tspan font-size="6" dy="-2.9">2</tspan><tspan dy="2.9" dx="0.1" word-spacing="0"> = 0.03</tspan></text>
<text transform="translate(102.50,587.60) scale(0.69,1)" font-size="8.8" text-anchor="middle" font-weight="bold" font-style="normal" fill="#1a1a1a" >JAK2 allelic load</text>
<circle cx="106.95" cy="352" r="2.0" fill="#c4001f"/>
<circle cx="144.6" cy="346.2" r="2.0" fill="#c4001f"/>
<circle cx="162.5" cy="409.9" r="2.0" fill="#c4001f"/>
<circle cx="162.5" cy="425.3" r="2.0" fill="#c4001f"/>
<circle cx="69" cy="436.1" r="2.0" fill="#c4001f"/>
<circle cx="97.8" cy="440.2" r="2.0" fill="#c4001f"/>
<circle cx="125.9" cy="436.1" r="2.0" fill="#c4001f"/>
<circle cx="100.1" cy="455.3" r="2.0" fill="#c4001f"/>
<circle cx="106.1" cy="456.9" r="2.0" fill="#c4001f"/>
<circle cx="54.1" cy="485.6" r="2.0" fill="#c4001f"/>
<circle cx="59.7" cy="481.6" r="2.0" fill="#c4001f"/>
<circle cx="71.6" cy="475.9" r="2.0" fill="#c4001f"/>
<circle cx="81.9" cy="473.9" r="2.0" fill="#c4001f"/>
<circle cx="81.9" cy="479" r="2.0" fill="#c4001f"/>
<circle cx="85.6" cy="477.1" r="2.0" fill="#c4001f"/>
<circle cx="72.2" cy="496.1" r="2.0" fill="#c4001f"/>
<circle cx="71.6" cy="504" r="2.0" fill="#c4001f"/>
<circle cx="82.9" cy="500.2" r="2.0" fill="#c4001f"/>
<circle cx="88.4" cy="492.1" r="2.0" fill="#c4001f"/>
<circle cx="53.7" cy="506.4" r="2.0" fill="#c4001f"/>
<circle cx="124.2" cy="496.1" r="2.0" fill="#c4001f"/>
<circle cx="127.2" cy="494.1" r="2.0" fill="#c4001f"/>
<circle cx="144.7" cy="496.7" r="2.0" fill="#c4001f"/>
<circle cx="162.5" cy="466" r="2.0" fill="#c4001f"/>
<circle cx="78.9" cy="518.9" r="2.0" fill="#c4001f"/>
<circle cx="58.5" cy="533.1" r="2.0" fill="#c4001f"/>
<circle cx="78.9" cy="528" r="2.0" fill="#c4001f"/>
<circle cx="81.9" cy="531" r="2.0" fill="#c4001f"/>
<circle cx="89.8" cy="527" r="2.0" fill="#c4001f"/>
<circle cx="107.8" cy="523.8" r="2.0" fill="#c4001f"/>
<circle cx="106" cy="528.4" r="2.0" fill="#c4001f"/>
<circle cx="126.8" cy="510.9" r="2.0" fill="#c4001f"/>
<circle cx="144.3" cy="514.3" r="2.0" fill="#c4001f"/>
<circle cx="140.3" cy="525.4" r="2.0" fill="#c4001f"/>
<circle cx="144.3" cy="533.5" r="2.0" fill="#c4001f"/>
<circle cx="155.4" cy="528" r="2.0" fill="#c4001f"/>
<circle cx="162.5" cy="531" r="2.0" fill="#c4001f"/>
<path d="M53.65 467.99 L56.38 468.30 L59.11 468.60 L61.84 468.87 L64.58 469.12 L67.31 469.35 L70.04 469.54 L72.77 469.70 L75.50 469.82 L78.23 469.91 L80.96 469.95 L83.69 469.93 L86.42 469.87 L89.16 469.75 L91.89 469.56 L94.62 469.30 L97.35 468.97 L100.08 468.57 L102.81 468.08 L105.54 467.52 L108.28 466.87 L111.01 466.14 L113.74 465.33 L116.47 464.45 L119.20 463.49 L121.93 462.46 L124.66 461.36 L127.39 460.21 L130.12 458.99 L132.86 457.73 L135.59 456.42 L138.32 455.07 L141.05 453.68 L143.78 452.26 L146.51 450.81 L149.24 449.33 L151.97 447.82 L154.71 446.29 L157.44 444.74 L160.17 443.18 L162.90 441.59 L162.90 501.41 L160.17 501.06 L157.44 500.74 L154.71 500.43 L151.97 500.14 L149.24 499.87 L146.51 499.63 L143.78 499.42 L141.05 499.24 L138.32 499.09 L135.59 498.98 L132.86 498.91 L130.12 498.89 L127.39 498.91 L124.66 499.00 L121.93 499.14 L119.20 499.35 L116.47 499.63 L113.74 499.99 L111.01 500.42 L108.28 500.93 L105.54 501.52 L102.81 502.20 L100.08 502.95 L97.35 503.79 L94.62 504.70 L91.89 505.68 L89.16 506.73 L86.42 507.85 L83.69 509.03 L80.96 510.26 L78.23 511.53 L75.50 512.86 L72.77 514.22 L70.04 515.62 L67.31 517.05 L64.58 518.52 L61.84 520.01 L59.11 521.52 L56.38 523.06 L53.65 524.61 Z" fill="rgba(197,192,200,0.40)"/>
<line x1="53.65" y1="496.3" x2="162.9" y2="471.50025" stroke="#3e6c9e" stroke-width="1.3"/>
<text transform="translate(184.60,291.80)" font-size="13.8" text-anchor="start" font-weight="bold" font-style="normal" fill="#000" >D</text>
<line x1="218.4" y1="293.5" x2="218.4" y2="560.3" stroke="#1a1a1a" stroke-width="1.6"/>
<line x1="217.6" y1="559.5" x2="341.2" y2="559.5" stroke="#1a1a1a" stroke-width="1.6"/>
<line x1="215.6" y1="374.2" x2="218.4" y2="374.2" stroke="#1a1a1a" stroke-width="1.3"/>
<text transform="translate(207.00,377.10)" font-size="8.0" text-anchor="end" font-weight="normal" font-style="normal" fill="#1a1a1a"  stroke="#1a1a1a" stroke-width="0.1">10</text>
<line x1="215.6" y1="460.6" x2="218.4" y2="460.6" stroke="#1a1a1a" stroke-width="1.3"/>
<text transform="translate(207.00,463.50)" font-size="8.0" text-anchor="end" font-weight="normal" font-style="normal" fill="#1a1a1a"  stroke="#1a1a1a" stroke-width="0.1">5</text>
<line x1="215.6" y1="547.0" x2="218.4" y2="547.0" stroke="#1a1a1a" stroke-width="1.3"/>
<text transform="translate(207.00,549.90)" font-size="8.0" text-anchor="end" font-weight="normal" font-style="normal" fill="#1a1a1a"  stroke="#1a1a1a" stroke-width="0.1">0</text>
<line x1="224.2" y1="559.5" x2="224.2" y2="562.5" stroke="#1a1a1a" stroke-width="1.3"/>
<text transform="translate(224.20,571.00)" font-size="8.0" text-anchor="middle" font-weight="normal" font-style="normal" fill="#1a1a1a"  stroke="#1a1a1a" stroke-width="0.1">0</text>
<line x1="255.0" y1="559.5" x2="255.0" y2="562.5" stroke="#1a1a1a" stroke-width="1.3"/>
<text transform="translate(255.00,571.00)" font-size="8.0" text-anchor="middle" font-weight="normal" font-style="normal" fill="#1a1a1a"  stroke="#1a1a1a" stroke-width="0.1">20</text>
<line x1="285.8" y1="559.5" x2="285.8" y2="562.5" stroke="#1a1a1a" stroke-width="1.3"/>
<text transform="translate(285.80,571.00)" font-size="8.0" text-anchor="middle" font-weight="normal" font-style="normal" fill="#1a1a1a"  stroke="#1a1a1a" stroke-width="0.1">40</text>
<line x1="316.6" y1="559.5" x2="316.6" y2="562.5" stroke="#1a1a1a" stroke-width="1.3"/>
<text transform="translate(316.60,571.00)" font-size="8.0" text-anchor="middle" font-weight="normal" font-style="normal" fill="#1a1a1a"  stroke="#1a1a1a" stroke-width="0.1">60</text>
<text transform="translate(195.60,427.00) rotate(-90)" font-size="10.6" text-anchor="middle" font-weight="normal" font-style="normal" fill="#111" >NETosis</text>
<text transform="translate(237.50,330.20)" font-size="8.3" text-anchor="start" font-weight="normal" font-style="normal" fill="#1a1a1a"  stroke="#1a1a1a" stroke-width="0.12">R<tspan font-size="6" dy="-2.9">2</tspan><tspan dy="2.9" dx="0.1" word-spacing="0"> = 0.06</tspan></text>
<text transform="translate(278.50,587.60) scale(0.69,1)" font-size="8.8" text-anchor="middle" font-weight="bold" font-style="normal" fill="#1a1a1a" >JAK2 allelic load</text>
<circle cx="231.4" cy="352.9" r="2.0" fill="#c4001f"/>
<circle cx="252.6" cy="401.1" r="2.0" fill="#c4001f"/>
<circle cx="250.7" cy="409.8" r="2.0" fill="#c4001f"/>
<circle cx="268.6" cy="410.5" r="2.0" fill="#c4001f"/>
<circle cx="244.4" cy="434.5" r="2.0" fill="#c4001f"/>
<circle cx="224.1" cy="463.4" r="2.0" fill="#c4001f"/>
<circle cx="242.8" cy="456.6" r="2.0" fill="#c4001f"/>
<circle cx="234.4" cy="471.5" r="2.0" fill="#c4001f"/>
<circle cx="254.9" cy="475.1" r="2.0" fill="#c4001f"/>
<circle cx="239.7" cy="480.2" r="2.0" fill="#c4001f"/>
<circle cx="257.3" cy="489.8" r="2.0" fill="#c4001f"/>
<circle cx="297.6" cy="475.1" r="2.0" fill="#c4001f"/>
<circle cx="304.1" cy="494.6" r="2.0" fill="#c4001f"/>
<circle cx="332.5" cy="477.1" r="2.0" fill="#c4001f"/>
<circle cx="332.5" cy="486.7" r="2.0" fill="#c4001f"/>
<circle cx="340.2" cy="492.7" r="2.0" fill="#c4001f"/>
<circle cx="340.2" cy="498" r="2.0" fill="#c4001f"/>
<circle cx="332.5" cy="508.3" r="2.0" fill="#c4001f"/>
<circle cx="325.3" cy="513.8" r="2.0" fill="#c4001f"/>
<circle cx="322.9" cy="518.4" r="2.0" fill="#c4001f"/>
<circle cx="239.7" cy="501.1" r="2.0" fill="#c4001f"/>
<circle cx="246.4" cy="499.9" r="2.0" fill="#c4001f"/>
<circle cx="266.4" cy="499.9" r="2.0" fill="#c4001f"/>
<circle cx="234.4" cy="505.2" r="2.0" fill="#c4001f"/>
<circle cx="234.4" cy="507.6" r="2.0" fill="#c4001f"/>
<circle cx="238" cy="511.2" r="2.0" fill="#c4001f"/>
<circle cx="248.8" cy="511.9" r="2.0" fill="#c4001f"/>
<circle cx="243.3" cy="518.4" r="2.0" fill="#c4001f"/>
<circle cx="246.9" cy="526.3" r="2.0" fill="#c4001f"/>
<circle cx="257.7" cy="535.2" r="2.0" fill="#c4001f"/>
<path d="M224.10 445.70 L227.00 447.44 L229.91 449.15 L232.81 450.83 L235.71 452.48 L238.61 454.10 L241.51 455.68 L244.42 457.21 L247.32 458.68 L250.22 460.10 L253.12 461.44 L256.03 462.71 L258.93 463.90 L261.83 464.99 L264.74 465.97 L267.64 466.85 L270.54 467.62 L273.44 468.28 L276.34 468.82 L279.25 469.26 L282.15 469.60 L285.05 469.85 L287.95 470.02 L290.86 470.11 L293.76 470.13 L296.66 470.10 L299.56 470.02 L302.47 469.89 L305.37 469.73 L308.27 469.53 L311.18 469.30 L314.08 469.05 L316.98 468.77 L319.88 468.47 L322.78 468.16 L325.69 467.83 L328.59 467.49 L331.49 467.13 L334.39 466.76 L337.30 466.39 L340.20 466.00 L340.20 531.40 L337.30 529.55 L334.39 527.71 L331.49 525.88 L328.59 524.06 L325.69 522.25 L322.78 520.46 L319.88 518.68 L316.98 516.92 L314.08 515.17 L311.18 513.46 L308.27 511.76 L305.37 510.10 L302.47 508.47 L299.56 506.88 L296.66 505.33 L293.76 503.83 L290.86 502.39 L287.95 501.02 L285.05 499.72 L282.15 498.50 L279.25 497.38 L276.34 496.35 L273.44 495.43 L270.54 494.62 L267.64 493.93 L264.74 493.34 L261.83 492.86 L258.93 492.48 L256.03 492.20 L253.12 492.01 L250.22 491.89 L247.32 491.84 L244.42 491.85 L241.51 491.91 L238.61 492.03 L235.71 492.18 L232.81 492.36 L229.91 492.58 L227.00 492.83 L224.10 493.10 Z" fill="rgba(197,192,200,0.40)"/>
<line x1="224.1" y1="469.4" x2="340.2" y2="498.70363999999995" stroke="#3e6c9e" stroke-width="1.3"/>
<text transform="translate(354.60,293.20)" font-size="13.8" text-anchor="start" font-weight="bold" font-style="normal" fill="#000" >E</text>
<line x1="396.8" y1="293.5" x2="396.8" y2="560.0" stroke="#1a1a1a" stroke-width="1.6"/>
<line x1="396.0" y1="559.2" x2="514.0" y2="559.2" stroke="#1a1a1a" stroke-width="1.6"/>
<line x1="394.0" y1="305.6" x2="396.8" y2="305.6" stroke="#1a1a1a" stroke-width="1.3"/>
<text transform="translate(389.00,307.90)" font-size="8.0" text-anchor="end" font-weight="normal" font-style="normal" fill="#1a1a1a"  stroke="#1a1a1a" stroke-width="0.1">10.0</text>
<line x1="394.0" y1="366.0" x2="396.8" y2="366.0" stroke="#1a1a1a" stroke-width="1.3"/>
<text transform="translate(389.00,368.30)" font-size="8.0" text-anchor="end" font-weight="normal" font-style="normal" fill="#1a1a1a"  stroke="#1a1a1a" stroke-width="0.1">7.5</text>
<line x1="394.0" y1="426.6" x2="396.8" y2="426.6" stroke="#1a1a1a" stroke-width="1.3"/>
<text transform="translate(389.00,428.90)" font-size="8.0" text-anchor="end" font-weight="normal" font-style="normal" fill="#1a1a1a"  stroke="#1a1a1a" stroke-width="0.1">5.0</text>
<line x1="394.0" y1="487.0" x2="396.8" y2="487.0" stroke="#1a1a1a" stroke-width="1.3"/>
<text transform="translate(389.00,489.30)" font-size="8.0" text-anchor="end" font-weight="normal" font-style="normal" fill="#1a1a1a"  stroke="#1a1a1a" stroke-width="0.1">2.5</text>
<line x1="394.0" y1="547.4" x2="396.8" y2="547.4" stroke="#1a1a1a" stroke-width="1.3"/>
<text transform="translate(389.00,549.70)" font-size="8.0" text-anchor="end" font-weight="normal" font-style="normal" fill="#1a1a1a"  stroke="#1a1a1a" stroke-width="0.1">0.0</text>
<line x1="401.9" y1="559.2" x2="401.9" y2="562.2" stroke="#1a1a1a" stroke-width="1.3"/>
<text transform="translate(401.90,571.00)" font-size="8.0" text-anchor="middle" font-weight="normal" font-style="normal" fill="#1a1a1a"  stroke="#1a1a1a" stroke-width="0.1">0</text>
<line x1="429.9" y1="559.2" x2="429.9" y2="562.2" stroke="#1a1a1a" stroke-width="1.3"/>
<text transform="translate(429.90,571.00)" font-size="8.0" text-anchor="middle" font-weight="normal" font-style="normal" fill="#1a1a1a"  stroke="#1a1a1a" stroke-width="0.1">25</text>
<line x1="457.9" y1="559.2" x2="457.9" y2="562.2" stroke="#1a1a1a" stroke-width="1.3"/>
<text transform="translate(457.90,571.00)" font-size="8.0" text-anchor="middle" font-weight="normal" font-style="normal" fill="#1a1a1a"  stroke="#1a1a1a" stroke-width="0.1">50</text>
<line x1="485.9" y1="559.2" x2="485.9" y2="562.2" stroke="#1a1a1a" stroke-width="1.3"/>
<text transform="translate(485.90,571.00)" font-size="8.0" text-anchor="middle" font-weight="normal" font-style="normal" fill="#1a1a1a"  stroke="#1a1a1a" stroke-width="0.1">75</text>
<text transform="translate(366.40,427.30) rotate(-90)" font-size="10.6" text-anchor="middle" font-weight="normal" font-style="normal" fill="#111" >NETosis</text>
<text transform="translate(409.70,330.20)" font-size="8.3" text-anchor="start" font-weight="normal" font-style="normal" fill="#1a1a1a"  stroke="#1a1a1a" stroke-width="0.12">R<tspan font-size="6" dy="-2.9">2</tspan><tspan dy="2.9" dx="0.1" word-spacing="0"> = 0.05</tspan></text>
<text transform="translate(455.00,587.80) scale(0.69,1)" font-size="8.8" text-anchor="middle" font-weight="bold" font-style="normal" fill="#1a1a1a" >JAK2 allelic load</text>
<circle cx="414.1" cy="358.2" r="2.0" fill="#c4001f"/>
<circle cx="434" cy="364.3" r="2.0" fill="#c4001f"/>
<circle cx="415.3" cy="405.8" r="2.0" fill="#c4001f"/>
<circle cx="456.4" cy="399.2" r="2.0" fill="#c4001f"/>
<circle cx="468.4" cy="407.7" r="2.0" fill="#c4001f"/>
<circle cx="456.4" cy="441.2" r="2.0" fill="#c4001f"/>
<circle cx="456.4" cy="451.5" r="2.0" fill="#c4001f"/>
<circle cx="452.7" cy="463.1" r="2.0" fill="#c4001f"/>
<circle cx="402.2" cy="449.7" r="2.0" fill="#c4001f"/>
<circle cx="402.2" cy="473.5" r="2.0" fill="#c4001f"/>
<circle cx="428" cy="477.4" r="2.0" fill="#c4001f"/>
<circle cx="436.8" cy="476.2" r="2.0" fill="#c4001f"/>
<circle cx="445.3" cy="484.5" r="2.0" fill="#c4001f"/>
<circle cx="453.8" cy="488" r="2.0" fill="#c4001f"/>
<circle cx="457.5" cy="484.5" r="2.0" fill="#c4001f"/>
<circle cx="430.3" cy="497.2" r="2.0" fill="#c4001f"/>
<circle cx="451.8" cy="498.9" r="2.0" fill="#c4001f"/>
<circle cx="511.1" cy="478.5" r="2.0" fill="#c4001f"/>
<circle cx="453" cy="509.25" r="2.0" fill="#c4001f"/>
<circle cx="443.25" cy="515.75" r="2.0" fill="#c4001f"/>
<circle cx="452" cy="515.75" r="2.0" fill="#c4001f"/>
<path d="M402.20 398.73 L404.82 401.85 L407.44 404.94 L410.06 407.98 L412.68 410.98 L415.30 413.92 L417.92 416.79 L420.54 419.59 L423.16 422.29 L425.78 424.88 L428.40 427.35 L431.02 429.67 L433.64 431.81 L436.26 433.76 L438.88 435.49 L441.50 436.98 L444.12 438.23 L446.74 439.21 L449.36 439.95 L451.98 440.45 L454.60 440.74 L457.22 440.83 L459.84 440.75 L462.46 440.53 L465.08 440.17 L467.70 439.72 L470.32 439.17 L472.94 438.54 L475.56 437.85 L478.18 437.10 L480.80 436.30 L483.42 435.47 L486.04 434.60 L488.66 433.69 L491.28 432.76 L493.90 431.81 L496.52 430.84 L499.14 429.85 L501.76 428.85 L504.38 427.83 L507.00 426.79 L507.00 545.74 L504.38 542.45 L501.76 539.18 L499.14 535.92 L496.52 532.67 L493.90 529.45 L491.28 526.24 L488.66 523.06 L486.04 519.91 L483.42 516.78 L480.80 513.69 L478.18 510.64 L475.56 507.64 L472.94 504.70 L470.32 501.82 L467.70 499.01 L465.08 496.30 L462.46 493.70 L459.84 491.22 L457.22 488.89 L454.60 486.72 L451.98 484.76 L449.36 483.01 L446.74 481.49 L444.12 480.23 L441.50 479.21 L438.88 478.45 L436.26 477.93 L433.64 477.63 L431.02 477.52 L428.40 477.58 L425.78 477.80 L423.16 478.14 L420.54 478.59 L417.92 479.13 L415.30 479.75 L412.68 480.44 L410.06 481.18 L407.44 481.97 L404.82 482.80 L402.20 483.67 Z" fill="rgba(197,192,200,0.40)"/>
<line x1="402.2" y1="441.2" x2="511.2" y2="488.07" stroke="#3e6c9e" stroke-width="1.3"/>
<rect x="0.65" y="0.75" width="518.7" height="593.5" fill="none" stroke="#000" stroke-width="1.5"/>
</svg>
</body></html>
